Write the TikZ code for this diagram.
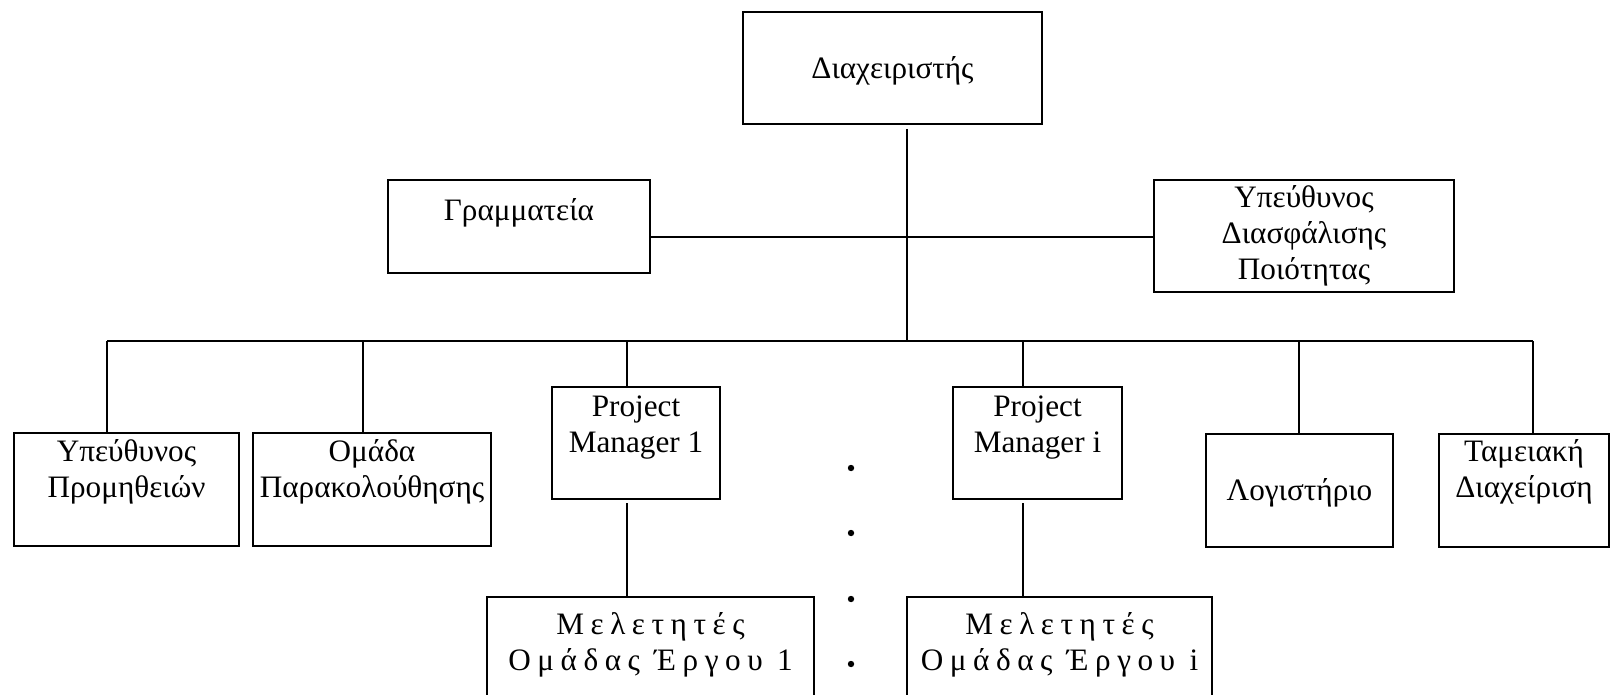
\documentclass[tikz,border=0pt]{standalone}
\usepackage{fontspec}
\setmainfont{Liberation Serif}
\newfontfamily\spacedfont[LetterSpace=21]{Liberation Serif}
\usepackage{tikz}
\usetikzlibrary{positioning, calc}

\begin{document}
\begin{tikzpicture}[x=0.5pt, y=-0.5pt,
	box/.style={draw, line width=1pt, rectangle, align=center, inner sep=0pt, font=\fontsize{15.6}{18}\selectfont, execute at begin node={\rule{0pt}{13.5pt}}},
	spaced/.style={box, font=\spacedfont\fontsize{15.6}{18}\selectfont},
	link/.style={line width=0.7pt}]
				\useasboundingbox (0,0) rectangle (1610,695);
				\clip (0,0) rectangle (1610,695);
				
				\node [box, minimum width=149.5pt, minimum height=56pt] (admin) at (892.5,68) {Διαχειριστής};
				\node [box, minimum width=131pt, minimum height=46.5pt] (gram) at (519,226.5) {Γραμματεία\\[-6pt] \strut};
				\node [box, minimum width=150pt, minimum height=56pt] (quality) at (1304,236) {Υπεύθυνος\\Διασφάλισης\\Ποιότητας};
				
				\node [box, minimum width=112.5pt, minimum height=56.5pt] (prom) at (126.5,489.5) {Υπεύθυνος\\Προμηθειών\\[-2pt] \strut};
				\node [box, minimum width=119pt, minimum height=56.5pt] (parak) at (372,489.5) {Ομάδα\\Παρακολούθησης\\[-2pt] \strut};
				\node [box, minimum width=84pt, minimum height=56pt] (pm1) at (636,443) {Project\\Manager 1\\[-5pt] \strut};
				\node [box, minimum width=84.5pt, minimum height=56pt] (pmi) at (1037.5,443) {Project\\Manager i\\[-5pt] \strut};
				\node [box, minimum width=93.5pt, minimum height=56.5pt] (logist) at (1299.5,490) {Λογιστήριο};
				\node [box, minimum width=85pt, minimum height=56.5pt] (tam) at (1524,490) {Ταμειακή\\Διαχείριση\\[-2pt] \strut};
				
				\node [spaced, minimum width=163.5pt, minimum height=65pt] (mel1) at (650.5,662) {Μελετητές\\Ομάδας Έργου 1\\[-3pt] \strut};
				\node [spaced, minimum width=152.5pt, minimum height=65pt] (meli) at (1059.5,662) {Μελετητές\\Ομάδας Έργου i\\[-3pt] \strut};
				
				% trunk and bus
				\coordinate (trunk) at (907,129);
				\coordinate (mid) at (907,237);
				\coordinate (bus) at (907,341);
				\coordinate (busL) at (107,341);
				\coordinate (busR) at (1533,341);
				\draw [link] (trunk) -- (bus);
				\draw [link] (gram.east |- mid) -- (quality.west |- mid);
				\draw [link] (busL) -- (busR);
				
				\foreach \x/\n in {107/prom, 363/parak, 627/pm1, 1023/pmi, 1299/logist, 1533/tam}{
					\coordinate (top\n) at (\x,341);
					\draw [link] (top\n) -- (top\n |- \n.north);
				}
				
				\coordinate (pm1low) at (627,503);
				\coordinate (pmilow) at (1023,503);
				\draw [link] (pm1low) -- (pm1low |- mel1.north);
				\draw [link] (pmilow) -- (pmilow |- meli.north);
				
				\foreach \y in {468,533,599,664}
					\fill (851,\y) circle (1.6pt);
				\end{tikzpicture}
\end{document}
